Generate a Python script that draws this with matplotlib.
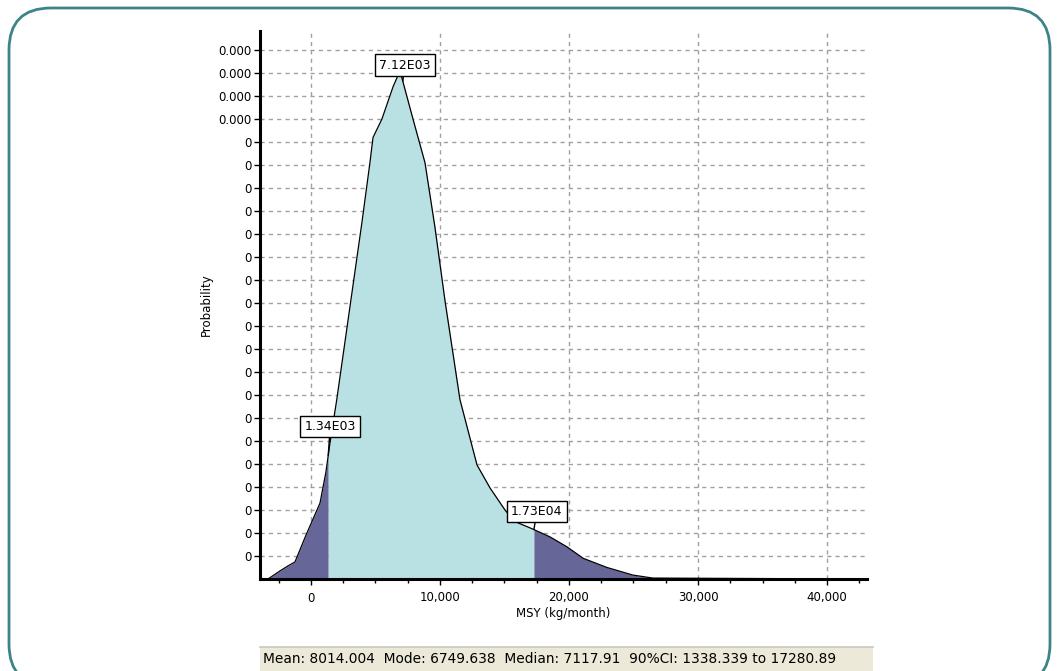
import numpy as np
import matplotlib.pyplot as plt
from matplotlib.patches import FancyBboxPatch, Rectangle
from matplotlib.ticker import MultipleLocator, FuncFormatter

# density curve of MSY (y in grid steps of 1e-5)
msy = [-3330, -2400, -1780, -1240, -390, 700, 1160, 1470, 2000, 3950, 4570,
       4810, 5500, 6360, 6900, 7910, 8840, 9610, 10390, 11550, 12870, 13880,
       15040, 15800, 17200, 18530, 19840, 21100, 22950, 24960, 26500, 43000]
prob = [0, 0.35, 0.57, 0.74, 1.9, 3.3, 4.65, 5.9, 7.8, 15.5, 18.1,
        19.2, 20.0, 21.4, 22.1, 20.0, 18.1, 15.3, 12.1, 7.8, 4.96, 3.96,
        3.0, 2.5, 2.17, 1.83, 1.4, 0.9, 0.5, 0.17, 0.04, 0]
step = 1e-5
ci_low, ci_high = 1338.339, 17280.89
median = 7117.91
labels = ["7.12E03", "1.34E03", "1.73E04"]
ytick_labels = ["0"] * 19 + ["0.000"] * 4
stats = "Mean: 8014.004  Mode: 6749.638  Median: 7117.91  90%CI: 1338.339 to 17280.89"

W, H = 1058, 671
plt.rcParams['font.family'] = 'DejaVu Sans'
fig = plt.figure(figsize=(W / 100, H / 100), dpi=100)

# background axes in pixel units (origin bottom-left) for the frame and status bar
bg = fig.add_axes([0, 0, 1, 1])
bg.set_xlim(0, W)
bg.set_ylim(0, H)
bg.axis('off')
bg.add_patch(FancyBboxPatch((9, -15), 1041, H - 8 + 15,
                            boxstyle="round,pad=0,rounding_size=42",
                            fill=False, edgecolor='#3d8489', lw=2))

ax = fig.add_axes([260 / W, (H - 579) / H, (867 - 260) / W, (579 - 31) / H])

x = np.array(msy, dtype=float)
y = np.array(prob) * step
# add the CI cut points so the shading ends exactly there
cuts = np.array([ci_low, ci_high])
xs = np.sort(np.concatenate([x, cuts]))
ys = np.interp(xs, x, y)

light = '#b9e0e3'
dark = '#666699'
ax.fill_between(xs, ys, where=xs <= ci_low, color=dark, lw=0)
ax.fill_between(xs, ys, where=(xs >= ci_low) & (xs <= ci_high), color=light, lw=0)
ax.fill_between(xs, ys, where=xs >= ci_high, color=dark, lw=0)
ax.plot(xs, ys, color='black', lw=0.9)

ax.set_xlim(-3950, 43100)
ax.set_ylim(0, 23.83 * step)

ax.set_yticks(np.arange(1, 24) * step)
ax.set_yticklabels(ytick_labels)
ax.xaxis.set_major_locator(MultipleLocator(10000))
ax.xaxis.set_minor_locator(MultipleLocator(2500))
ax.xaxis.set_major_formatter(FuncFormatter(lambda v, p: f"{int(v):,}"))

ax.grid(True, which='major', color='#a0a0a0', ls=(0, (3, 3)), lw=1)
ax.set_axisbelow(True)
for s in ['top', 'right']:
    ax.spines[s].set_visible(False)
for s in ['left', 'bottom']:
    ax.spines[s].set_linewidth(2.2)
ax.tick_params(axis='both', which='major', length=4, width=1, labelsize=8.5, pad=2)
ax.tick_params(axis='x', which='major', pad=5)
ax.tick_params(axis='x', which='minor', length=3, width=1)

ax.set_xlabel("MSY (kg/month)", fontsize=8.5, labelpad=2)
ax.set_ylabel("Probability", fontsize=8.5, labelpad=4)

# value boxes
box = dict(boxstyle='square,pad=0.35', fc='white', ec='black', lw=1)
marks = [median, ci_low, ci_high]
offsets = [(2, 16), (2, 29), (3, 18)]
for lab, mx, off in zip(labels, marks, offsets):
    my = np.interp(mx, x, y)
    ax.annotate(lab, xy=(mx, my), xytext=off, textcoords='offset pixels',
                ha='center', va='center', fontsize=9, bbox=box,
                arrowprops=dict(arrowstyle='-', color='black', lw=1,
                                shrinkA=0, shrinkB=0))

# status bar
bg.add_patch(Rectangle((260, 0), 613, H - 647, facecolor='#ece9d8', edgecolor='none'))
bg.plot([260, 873], [H - 647, H - 647], color='#c8c8c0', lw=1.2)
bg.text(263, H - 659, stats, fontsize=9.9, va='center', ha='left')

fig.savefig('out.png', dpi=100)
